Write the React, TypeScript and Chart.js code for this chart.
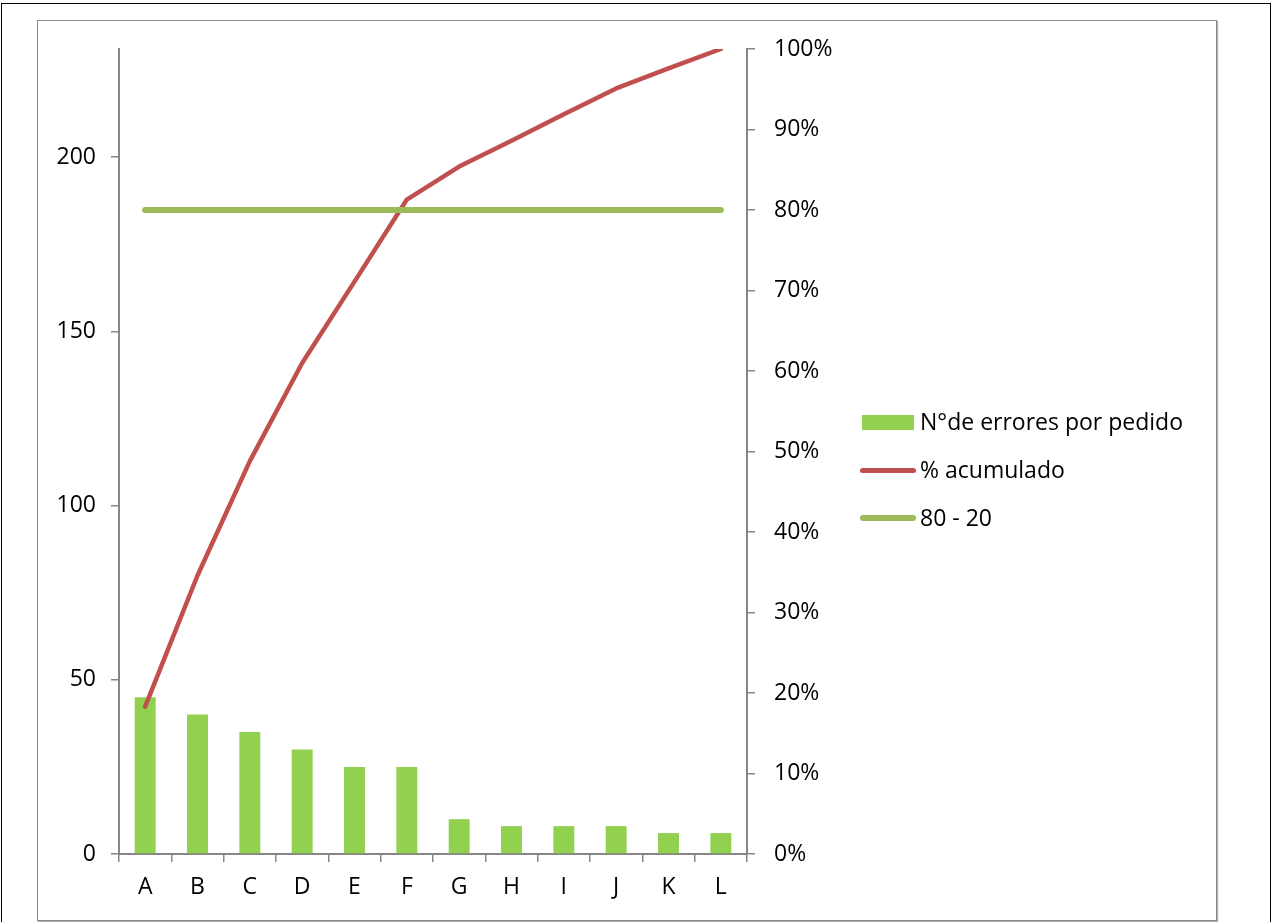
import React, { useEffect, useRef } from "react";
import { Chart, registerables } from "chart.js";

Chart.register(...registerables);

const categories = ["A", "B", "C", "D", "E", "F", "G", "H", "I", "J", "K", "L"];
const erroresPorPedido = [45, 40, 35, 30, 25, 25, 10, 8, 8, 8, 6, 6];
const porcentajeAcumulado = [18.3, 34.6, 48.8, 61.0, 71.1, 81.3, 85.4, 88.6, 91.9, 95.1, 97.6, 100];
const linea8020 = [80, 80, 80, 80, 80, 80, 80, 80, 80, 80, 80, 80];
const seriesNames = ["N°de errores por pedido", "% acumulado", "80 - 20"];

const BAR_COLOR = "#92D050";
const RED = "#C0504D";
const GREEN = "#9BBB59";
const AXIS = "#868686";
const FONT = "'Open Sans', 'DejaVu Sans', sans-serif";
const FS = 23;

export default function App() {
  const ref = useRef<HTMLCanvasElement | null>(null);

  useEffect(() => {
    if (!ref.current) return;
    const chart = new Chart(ref.current, {
      type: "bar",
      data: {
        labels: categories,
        datasets: [
          {
            type: "line",
            label: seriesNames[2],
            data: linea8020,
            yAxisID: "y1",
            borderColor: GREEN,
            backgroundColor: GREEN,
            borderWidth: 6,
            pointRadius: 3,
            pointStyle: "rectRot",
            pointBorderWidth: 0,
            borderCapStyle: "round",
            order: 0,
          } as any,
          {
            type: "line",
            label: seriesNames[1],
            data: porcentajeAcumulado,
            yAxisID: "y1",
            borderColor: RED,
            backgroundColor: RED,
            borderWidth: 4.5,
            pointRadius: 0,
            borderCapStyle: "round",
            borderJoinStyle: "round",
            order: 1,
          } as any,
          {
            type: "bar",
            label: seriesNames[0],
            data: erroresPorPedido,
            yAxisID: "y",
            backgroundColor: BAR_COLOR,
            borderWidth: 0,
            categoryPercentage: 1,
            barPercentage: 0.4,
            order: 2,
          } as any,
        ],
      },
      options: {
        responsive: false,
        animation: false,
        layout: { padding: { top: 49, left: 0, right: 0, bottom: 0 } },
        plugins: { legend: { display: false }, tooltip: { enabled: false } },
        scales: {
          x: {
            offset: true,
            grid: {
              offset: true,
              drawOnChartArea: false,
              drawTicks: true,
              tickLength: 8,
              color: AXIS,
              lineWidth: 1.5,
            },
            border: { color: AXIS, width: 2 },
            ticks: { color: "#000", font: { family: FONT, size: FS }, padding: 12 },
            afterFit: (s: any) => {
              s.height = 68;
            },
          },
          y: {
            position: "left",
            min: 0,
            max: 231,
            ticks: {
              stepSize: 50,
              includeBounds: false,
              color: "#000",
              font: { family: FONT, size: FS },
              padding: 15,
            },
            grid: {
              drawOnChartArea: false,
              drawTicks: true,
              tickLength: 8,
              color: AXIS,
              lineWidth: 1.5,
            },
            border: { color: AXIS, width: 2 },
            afterFit: (s: any) => {
              s.width = 119;
            },
          },
          y1: {
            position: "right",
            min: 0,
            max: 100,
            ticks: {
              stepSize: 10,
              color: "#000",
              font: { family: FONT, size: FS },
              padding: 19,
              callback: (v: any) => v + "%",
            },
            grid: {
              drawOnChartArea: false,
              drawTicks: true,
              tickLength: 8,
              color: AXIS,
              lineWidth: 1.5,
            },
            border: { color: AXIS, width: 2 },
            afterFit: (s: any) => {
              s.width = 1273 - 747;
            },
          },
        },
      },
    });
    return () => chart.destroy();
  }, []);

  const legendText: React.CSSProperties = {
    position: "absolute",
    left: 920,
    fontFamily: FONT,
    fontSize: FS,
    lineHeight: "30px",
    color: "#000",
    whiteSpace: "nowrap",
  };

  return (
    <div style={{ position: "fixed", left: 0, top: 0, width: 1273, height: 922, background: "#fff", overflow: "hidden" }}>
      <div style={{ position: "absolute", left: 1, top: 3, width: 1270, height: 940, border: "1px solid #000", boxSizing: "border-box" }} />
      <div
        style={{
          position: "absolute",
          left: 37,
          top: 20,
          width: 1180,
          height: 901,
          border: "1.5px solid #8a8a8a",
          boxShadow: "1px 1px 1px #b0b0b0",
          boxSizing: "border-box",
        }}
      />
      <canvas ref={ref} width={1273} height={922} style={{ position: "absolute", left: 0, top: 0, width: 1273, height: 922 }} />
      <div style={{ position: "absolute", left: 862, top: 415, width: 52, height: 15, background: BAR_COLOR }} />
      <div style={{ ...legendText, top: 406 }}>{seriesNames[0]}</div>
      <div style={{ position: "absolute", left: 860, top: 468, width: 56, height: 5, background: RED, borderRadius: 3 }} />
      <div style={{ ...legendText, top: 454 }}>{seriesNames[1]}</div>
      <div style={{ position: "absolute", left: 860, top: 515, width: 56, height: 6, background: GREEN, borderRadius: 3 }} />
      <div style={{ ...legendText, top: 502 }}>{seriesNames[2]}</div>
    </div>
  );
}
